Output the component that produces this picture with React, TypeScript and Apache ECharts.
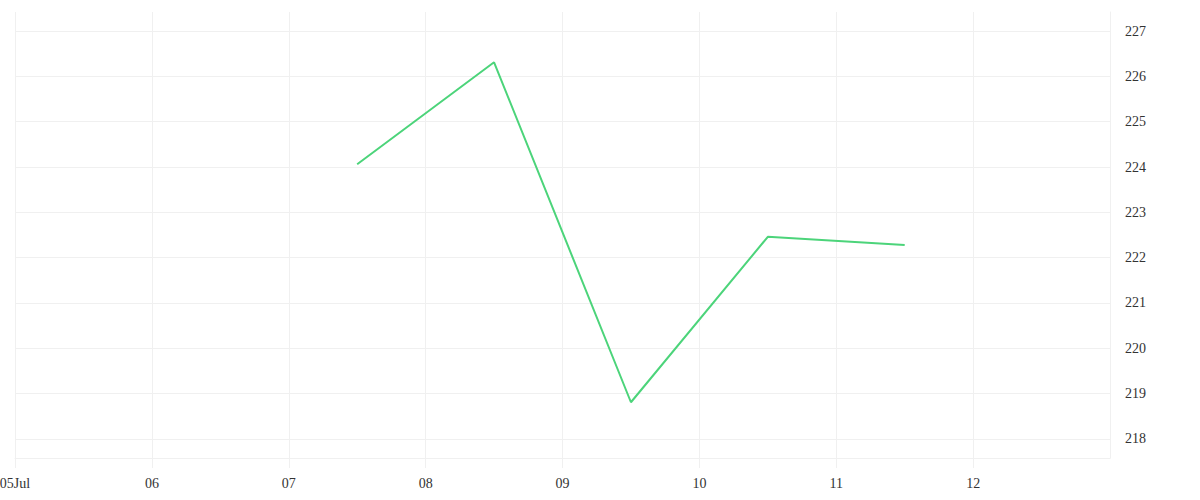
import React, { useEffect, useRef } from "react";
import * as echarts from "echarts";

const times = ["2024-07-07 12:00", "2024-07-08 12:00", "2024-07-09 12:00", "2024-07-10 12:00", "2024-07-11 12:00"];
const prices = [224.06, 226.31, 218.81, 222.46, 222.28];
const xStart = "2024-07-05 00:00";
const xEnd = "2024-07-13 00:00";
const yMin = 217.58;
const yMax = 227.42;
const monthNames = ["Jan", "Feb", "Mar", "Apr", "May", "Jun", "Jul", "Aug", "Sep", "Oct", "Nov", "Dec"];

function parseLocal(s: string): number {
  const [d, t] = s.split(" ");
  const [y, m, day] = d.split("-").map(Number);
  const [hh, mm] = t.split(":").map(Number);
  return new Date(y, m - 1, day, hh, mm).getTime();
}

const DAY = 24 * 3600 * 1000;

export default function App() {
  const ref = useRef<HTMLDivElement>(null);
  useEffect(() => {
    document.body.style.margin = "0";
    const chart = echarts.init(ref.current!, undefined, { renderer: "svg" });
    const gridColor = "#f0f0f0";
    const textStyle = { color: "#333", fontSize: 14, fontFamily: "Liberation Serif" };
    const startMs = parseLocal(xStart);
    chart.setOption({
      animation: false,
      grid: { left: 15, right: 90, top: 12, bottom: 42, containLabel: false, outerBoundsMode: "none" },
      xAxis: {
        type: "time",
        min: startMs,
        max: parseLocal(xEnd),
        minInterval: DAY,
        maxInterval: DAY,
        splitNumber: 8,
        axisLine: { show: true, lineStyle: { color: gridColor, width: 1 } },
        axisTick: { show: true, length: 10, lineStyle: { color: gridColor } },
        splitLine: { show: true, lineStyle: { color: gridColor } },
        axisLabel: {
          ...textStyle,
          margin: 18,
          showMaxLabel: false,
          hideOverlap: false,
          formatter: (v: number) => {
            const d = new Date(v);
            const dd = String(d.getDate()).padStart(2, "0");
            return Math.abs(v - startMs) < 1000 ? dd + monthNames[d.getMonth()] : dd;
          },
        },
      },
      yAxis: {
        type: "value",
        position: "right",
        min: yMin,
        max: yMax,
        minInterval: 1,
        maxInterval: 1,
        splitNumber: 10,
        axisLine: { show: true, lineStyle: { color: gridColor } },
        axisTick: { show: false },
        splitLine: { show: true, showMaxLine: false, lineStyle: { color: gridColor } },
        axisLabel: { ...textStyle, margin: 15, padding: [6, 0, 0, 0], showMinLabel: false, showMaxLabel: false },
      },
      series: [
        {
          type: "line",
          data: times.map((t, i) => [parseLocal(t), prices[i]]),
          showSymbol: false,
          lineStyle: { color: "#4cd47a", width: 2 },
          itemStyle: { color: "#4cd47a" },
        },
      ],
    });
    return () => chart.dispose();
  }, []);
  return <div ref={ref} style={{ width: 1200, height: 500 }} />;
}
